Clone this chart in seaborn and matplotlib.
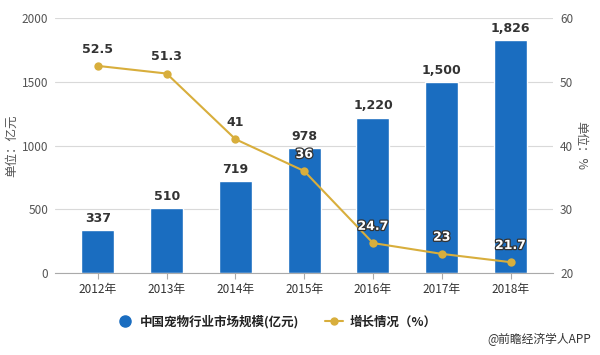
import matplotlib
matplotlib.use("Agg")
import matplotlib.pyplot as plt
import matplotlib.patheffects as pe
from matplotlib.lines import Line2D
import seaborn as sns
import pandas as pd

years = ["2012年", "2013年", "2014年", "2015年", "2016年", "2017年", "2018年"]
market_size = [337, 510, 719, 978, 1220, 1500, 1826]
growth = [52.5, 51.3, 41, 36, 24.7, 23, 21.7]
growth_labels = ["52.5", "51.3", "41", "36", "24.7", "23", "21.7"]

sns.set_style("white")
plt.rcParams['font.family'] = ['Noto Sans CJK SC', 'DejaVu Sans']

df = pd.DataFrame({"year": years, "size": market_size, "growth": growth})

bar_color = "#1a6dc0"
line_color = "#d8ae3c"

fig = plt.figure(figsize=(6, 3.55), dpi=100)
ax = fig.add_axes([0.092, 0.231, 0.83, 0.718])

sns.barplot(data=df, x="year", y="size", color=bar_color, width=0.48,
            saturation=1, ax=ax, zorder=2)
ax.set_ylim(0, 2000)
ax.set_xlim(-0.62, 6.62)
ax.set_yticks([0, 500, 1000, 1500, 2000])
ax.yaxis.grid(True, color="#d9d9d9", linewidth=0.8)
ax.set_axisbelow(True)
ax.set_xlabel("")
ax.set_ylabel("单位：亿元", fontsize=9, color="#555555")
ax.yaxis.set_label_coords(-0.075, 0.5)
ax.tick_params(axis="y", length=0, labelsize=8.5, labelcolor="#555555", pad=5)
ax.tick_params(axis="x", length=4, color="#aaaaaa", labelsize=8.5,
               labelcolor="#333333", bottom=True)
for s in ["top", "right", "left"]:
    ax.spines[s].set_visible(False)
ax.spines["bottom"].set_color("#aaaaaa")

for i, v in enumerate(market_size):
    ax.text(i, v + 40, f"{v:,}", ha="center", va="bottom", fontsize=9,
            fontweight="bold", color="#333333", family="DejaVu Sans")

ax2 = ax.twinx()
sns.lineplot(x=list(range(len(years))), y=growth, ax=ax2, color=line_color,
             linewidth=1.5, marker="o", markersize=6, markeredgewidth=0,
             zorder=3)
ax2.set_ylim(20, 60)
ax2.set_yticks([20, 30, 40, 50, 60])
ax2.tick_params(axis="y", length=0, labelsize=8.5, labelcolor="#555555", pad=5)
ax2.set_ylabel("单位：%", fontsize=9, color="#555555", rotation=270)
ax2.yaxis.set_label_coords(1.068, 0.5)
for s in ["top", "right", "left", "bottom"]:
    ax2.spines[s].set_visible(False)

for i, (v, lab) in enumerate(zip(growth, growth_labels)):
    if i < 3:
        ax2.text(i, v + 1.6, lab, ha="center", va="bottom", fontsize=9,
                 fontweight="bold", color="#333333", family="DejaVu Sans")
    else:
        t = ax2.text(i, v + 1.6, lab, ha="center", va="bottom", fontsize=9,
                     fontweight="bold", color="white", family="DejaVu Sans")
        t.set_path_effects([pe.withStroke(linewidth=1.8, foreground="#333333")])

handles = [
    Line2D([], [], marker="o", linestyle="", color=bar_color, markersize=8),
    Line2D([], [], marker="o", color=line_color, markersize=5, linewidth=1.5),
]
fig.legend(handles, ["中国宠物行业市场规模(亿元)", "增长情况（%）"],
           loc="center", bbox_to_anchor=(0.46, 0.093), ncol=2, frameon=False,
           prop={"size": 9, "weight": "bold"}, handlelength=1.5,
           columnspacing=2.0, handletextpad=0.5, labelcolor="#222222")

fig.text(0.985, 0.025, "@前瞻经济学人APP", ha="right", va="bottom",
         fontsize=8.5, color="#333333")

fig.savefig("out.png", dpi=100)
